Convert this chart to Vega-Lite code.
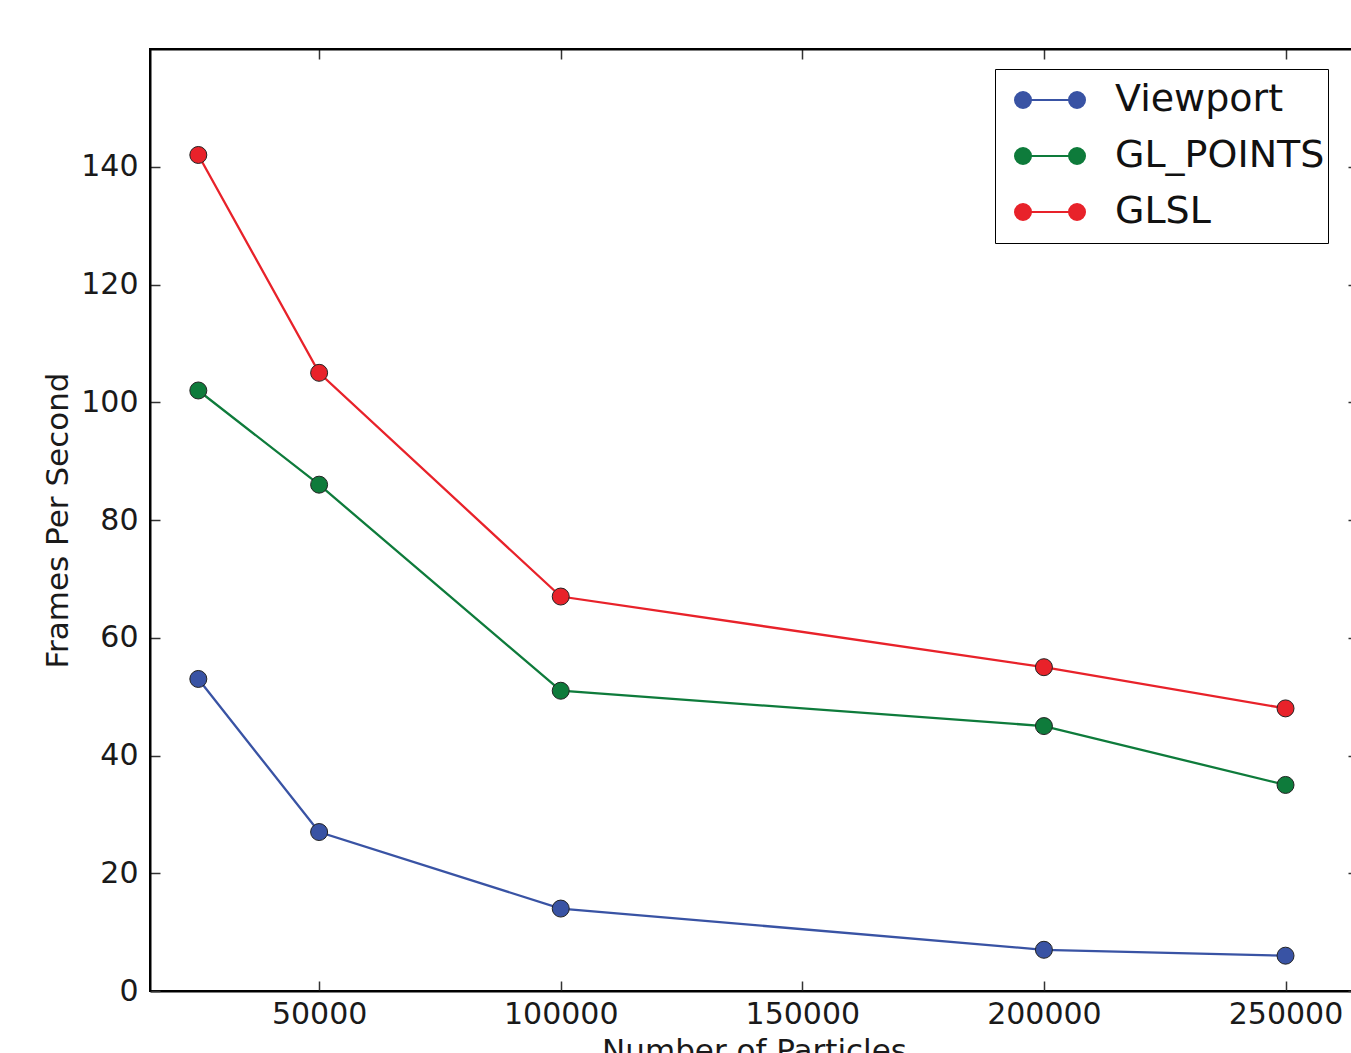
{
  "$schema": "https://vega.github.io/schema/vega-lite/v6.json",
  "autosize": {"type": "none"},
  "padding": {"left": 150, "top": 49, "right": 0, "bottom": 62},
  "width": 1208,
  "height": 942,
  "background": "white",
  "config": {
    "font": "DejaVu Sans",
    "view": {"stroke": "black", "strokeWidth": 2},
    "axis": {
      "grid": false,
      "domainColor": "black",
      "domainWidth": 2,
      "tickColor": "#333333",
      "tickWidth": 1.5,
      "tickSize": -10,
      "labelFont": "DejaVu Sans",
      "labelFontSize": 30,
      "labelColor": "#1a1a1a",
      "titleFont": "DejaVu Sans",
      "titleFontSize": 31,
      "titleFontWeight": "normal",
      "titleColor": "#1a1a1a"
    }
  },
  "data": {
    "values": [
      {"particles": 25000, "fps": 53, "series": "Viewport"},
      {"particles": 50000, "fps": 27, "series": "Viewport"},
      {"particles": 100000, "fps": 14, "series": "Viewport"},
      {"particles": 200000, "fps": 7, "series": "Viewport"},
      {"particles": 250000, "fps": 6, "series": "Viewport"},
      {"particles": 25000, "fps": 102, "series": "GL_POINTS"},
      {"particles": 50000, "fps": 86, "series": "GL_POINTS"},
      {"particles": 100000, "fps": 51, "series": "GL_POINTS"},
      {"particles": 200000, "fps": 45, "series": "GL_POINTS"},
      {"particles": 250000, "fps": 35, "series": "GL_POINTS"},
      {"particles": 25000, "fps": 142, "series": "GLSL"},
      {"particles": 50000, "fps": 105, "series": "GLSL"},
      {"particles": 100000, "fps": 67, "series": "GLSL"},
      {"particles": 200000, "fps": 55, "series": "GLSL"},
      {"particles": 250000, "fps": 48, "series": "GLSL"}
    ]
  },
  "layer": [
    {
      "mark": {"type": "line", "strokeWidth": 2.3},
      "encoding": {
        "x": {
          "field": "particles", "type": "quantitative",
          "scale": {"domain": [15000, 265000], "nice": false, "zero": false},
          "axis": {"title": "Number of Particles", "values": [50000, 100000, 150000, 200000, 250000], "format": "d", "labelPadding": 18, "titlePadding": 7}
        },
        "y": {
          "field": "fps", "type": "quantitative",
          "scale": {"domain": [0, 160], "nice": false},
          "axis": {"title": "Frames Per Second", "values": [0, 20, 40, 60, 80, 100, 120, 140], "labelPadding": 22, "titlePadding": 6}
        },
        "color": {
          "field": "series", "type": "nominal",
          "scale": {"domain": ["Viewport", "GL_POINTS", "GLSL"], "range": ["#3953a4", "#0e7b3b", "#e8222a"]},
          "legend": {
            "orient": "none", "legendX": 845, "legendY": 20,
            "title": null,
            "symbolType": "M-0.314,0L1.229,0M-0.543,0A0.229,0.229,0,1,0,-0.085,0A0.229,0.229,0,1,0,-0.543,0ZM1,0A0.229,0.229,0,1,0,1.458,0A0.229,0.229,0,1,0,1,0Z",
            "symbolSize": 4900,
            "symbolStrokeWidth": 2,
            "clipHeight": 56,
            "rowPadding": 0,
            "padding": 3,
            "labelOffset": 45,
            "labelLimit": 500,
            "labelFont": "DejaVu Sans",
            "labelFontSize": 38,
            "labelColor": "#111111",
            "strokeColor": "black",
            "fillColor": "white",
            "cornerRadius": 0,
            "encode": {"symbols": {"update": {"fill": {"scale": "color", "field": "value"}, "stroke": {"scale": "color", "field": "value"}, "opacity": {"value": 1}}}}
          }
        }
      }
    },
    {
      "mark": {"type": "point", "filled": true, "size": 289, "stroke": "#222222", "strokeWidth": 1, "opacity": 1},
      "encoding": {
        "x": {"field": "particles", "type": "quantitative", "axis": null},
        "y": {"field": "fps", "type": "quantitative", "axis": null},
        "color": {"field": "series", "type": "nominal", "legend": null}
      }
    },
    {
      "mark": {"type": "point", "opacity": 0},
      "encoding": {
        "x": {"field": "particles", "type": "quantitative", "axis": {"orient": "top", "title": null, "labels": false, "values": [50000, 100000, 150000, 200000, 250000]}},
        "y": {"field": "fps", "type": "quantitative", "axis": {"orient": "right", "title": null, "labels": false, "values": [0, 20, 40, 60, 80, 100, 120, 140]}}
      }
    }
  ],
  "resolve": {"axis": {"x": "independent", "y": "independent"}}
}
